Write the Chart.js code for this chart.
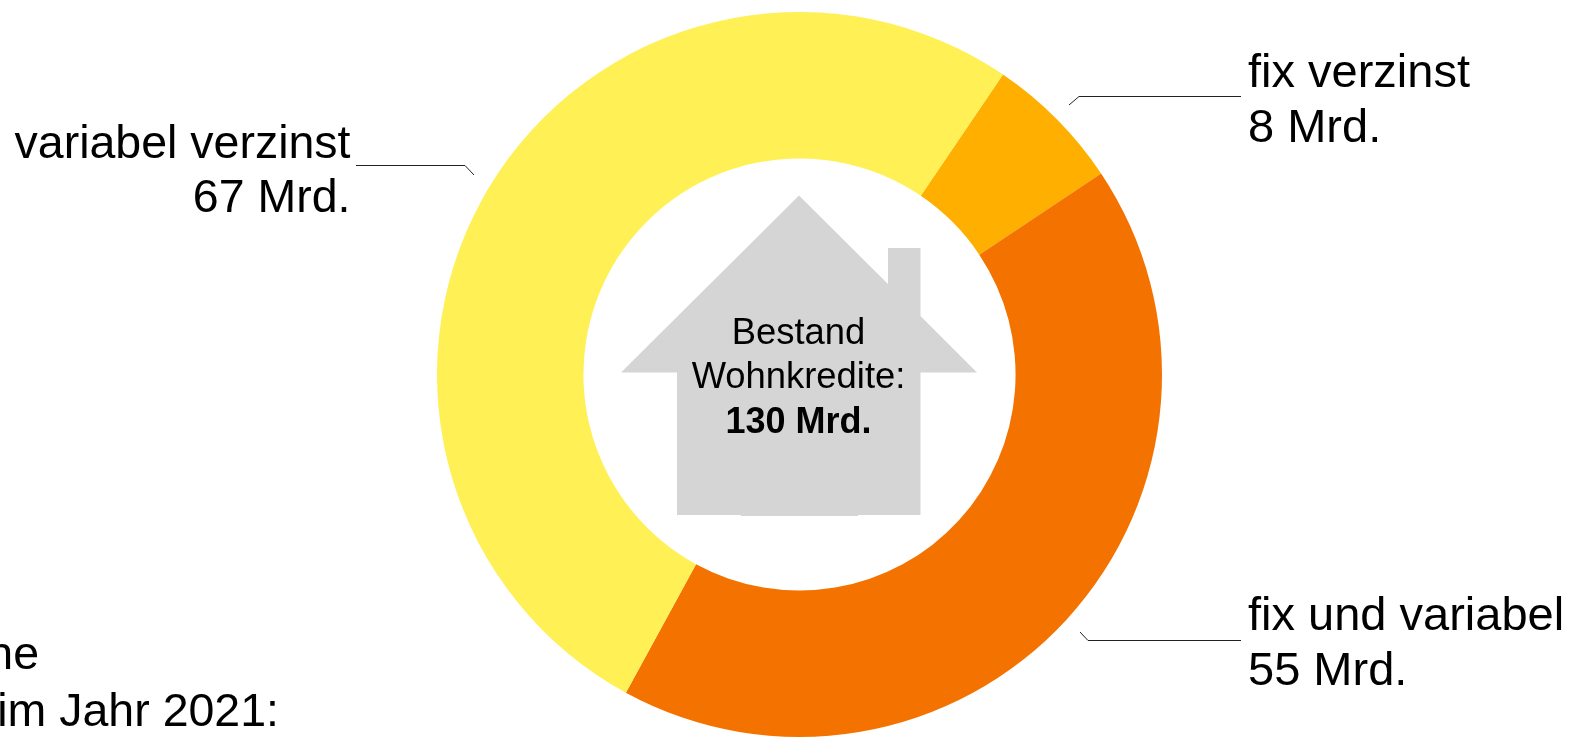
<!DOCTYPE html>
<html><head><meta charset="utf-8">
<style>html,body{margin:0;padding:0;background:#fff;overflow:hidden}#w{position:relative;width:1570px;height:737px}</style>
<script src="https://cdn.jsdelivr.net/npm/chart.js@4"></script>
</head><body><div id="w"><canvas id="c" width="1570" height="737"></canvas></div>
<script>
const categories = ["fix verzinst", "fix und variabel", "variabel verzinst"];
const values = [8, 55, 67];
const valueLabels = ["8 Mrd.", "55 Mrd.", "67 Mrd."];
const colors = ["#ffaf00", "#f47300", "#fff056"];
const centerLines = ["Bestand", "Wohnkredite:"];
const centerTotal = "130 Mrd.";
const sideLines = ["ne", "im Jahr 2021:"];
const font = '"Liberation Sans", Helvetica, Arial, sans-serif';

const overlay = {
  id: "overlay",
  afterDatasetsDraw(chart) {
    const c = chart.ctx;
    c.save();
    // house
    c.fillStyle = "#d5d5d5";
    c.beginPath();
    [[799,195.5],[888,284],[888,248],[920.5,248],[920.5,316],[977,372.5],[920.5,372.5],[920.5,515],[858,515],[858,516],[741,516],[741,515],[677,515],[677,372.5],[621,372.5]]
      .forEach((p,i)=> i ? c.lineTo(p[0],p[1]) : c.moveTo(p[0],p[1]));
    c.closePath(); c.fill();
    // leader lines
    c.strokeStyle = "#222"; c.lineWidth = 1;
    [[[1069,105],[1079,96.5],[1241,96.5]],
     [[1080,632],[1088,640.5],[1241,640.5]],
     [[356,165.5],[465,165.5],[474,175]]].forEach(l=>{
      c.beginPath(); l.forEach((p,i)=> i ? c.lineTo(p[0],p[1]) : c.moveTo(p[0],p[1])); c.stroke();
    });
    // labels
    c.fillStyle = "#000"; c.textBaseline = "alphabetic";
    c.font = "47px " + font;
    c.textAlign = "left";
    c.fillText(categories[0], 1248, 87);
    c.fillText(valueLabels[0], 1248, 142);
    c.fillText(categories[1], 1248, 630);
    c.fillText(valueLabels[1], 1248, 685);
    c.textAlign = "right";
    c.font = "46.5px " + font;
    c.fillText(categories[2], 350.5, 158);
    c.fillText(valueLabels[2], 350.5, 212);
    c.fillText(sideLines[0], 39, 669);
    c.fillText(sideLines[1], 279, 726);
    // centre
    c.textAlign = "center";
    c.font = "36.4px " + font;
    c.fillText(centerLines[0], 798.5, 344);
    c.fillText(centerLines[1], 798.5, 388);
    c.font = "bold 36px " + font;
    c.fillText(centerTotal, 798.5, 433);
    c.restore();
  }
};

new Chart(document.getElementById("c"), {
  type: "doughnut",
  data: { labels: categories, datasets: [{ data: values, backgroundColor: colors, borderWidth: 0 }] },
  options: {
    responsive: false, animation: false, cutout: "59.6%", rotation: 34.15,
    layout: { padding: { top: 12, left: 29, right: 0, bottom: 0 } },
    plugins: { legend: { display: false }, tooltip: { enabled: false }, title: { display: false } }
  },
  plugins: [overlay]
});
</script></body></html>
